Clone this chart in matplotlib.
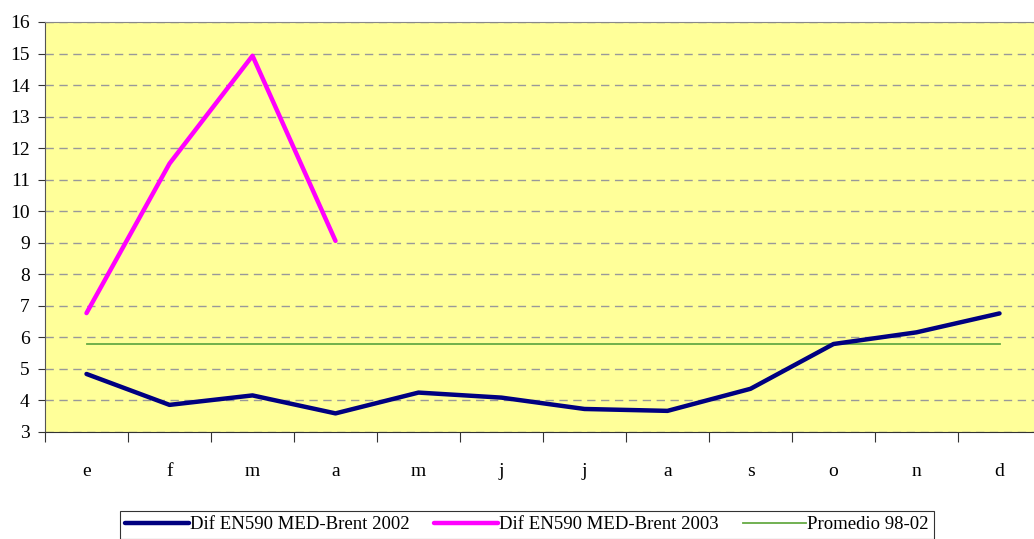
import matplotlib.pyplot as plt

months = ["e", "f", "m", "a", "m", "j", "j", "a", "s", "o", "n", "d"]
dif_2002 = [4.84, 3.86, 4.16, 3.59, 4.25, 4.09, 3.73, 3.67, 4.37, 5.79, 6.16, 6.76]
dif_2003 = [6.77, 11.51, 14.93, 9.06]
promedio = [5.78] * 12

plt.rcParams['font.family'] = ['Liberation Serif', 'DejaVu Serif']

fig = plt.figure(figsize=(10.34, 5.39), dpi=100)
ax = fig.add_axes([45 / 1034, 107 / 539, 996 / 1034, 410 / 539])
ax.set_facecolor("#FFFF99")

x = list(range(len(months)))
ax.plot(x, dif_2002, color="#000080", lw=3.2, solid_capstyle="round",
        label="Dif EN590 MED-Brent 2002", zorder=4)
ax.plot(x[:len(dif_2003)], dif_2003, color="#FF00FF", lw=3.2, solid_capstyle="round",
        label="Dif EN590 MED-Brent 2003", zorder=4)
ax.plot(x, promedio, color="#66AA44", lw=1.3, label="Promedio 98-02", zorder=3)

ax.set_xlim(-0.5, 11.5)
ax.set_ylim(3, 16)
ax.set_yticks(range(3, 17))
ax.yaxis.grid(True, color="#999999", ls=(0, (6, 4)), lw=1)
ax.set_axisbelow(True)

# ticks between months, labels centred under each month
ax.set_xticks([i - 0.5 for i in range(13)])
ax.set_xticklabels([])
ax.set_xticks(x, minor=True)
ax.set_xticklabels(months, minor=True, fontsize=14)
ax.tick_params(axis="x", which="minor", length=0, pad=22)
ax.tick_params(axis="x", which="major", length=7, color="#333333")
ax.tick_params(axis="y", length=5, color="#333333", labelsize=14, pad=6)

ax.spines["right"].set_visible(False)
ax.spines["top"].set_color("#888888")
ax.spines["left"].set_color("#555555")
ax.spines["bottom"].set_color("#333333")

leg = fig.legend(loc="lower center", bbox_to_anchor=(527 / 1034, 0.0), ncol=3,
                 fontsize=13.5, frameon=True, fancybox=False, edgecolor="black",
                 handlelength=3.4, handletextpad=0.05, columnspacing=1.3,
                 borderpad=0.3, borderaxespad=0.0)
leg.get_frame().set_linewidth(0.8)

fig.savefig("out.png", dpi=100)
